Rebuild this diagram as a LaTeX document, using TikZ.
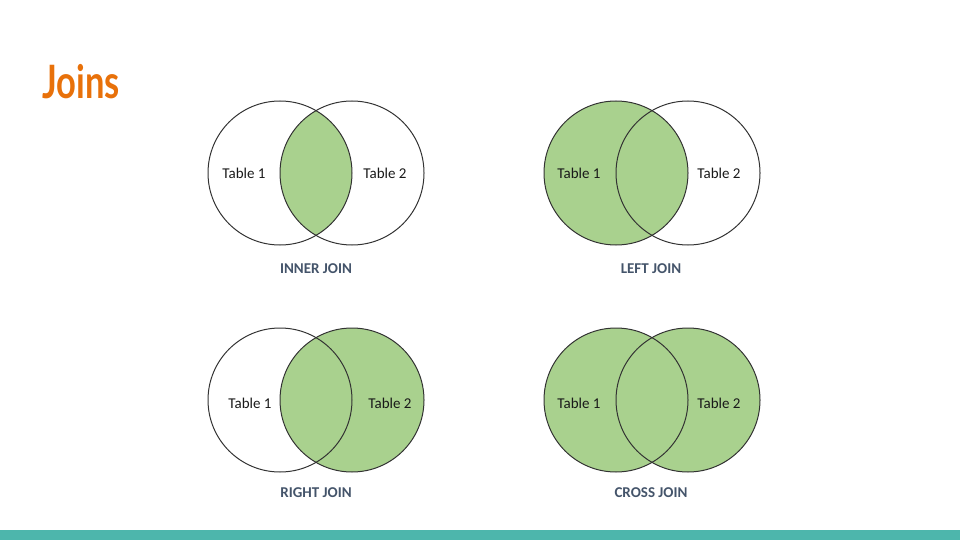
\documentclass[tikz,border=0pt]{standalone}
\usepackage{fontspec}
\setmainfont{Carlito}
\newfontfamily\titlefont[FakeStretch=0.75]{Lato}
\definecolor{joingreen}{HTML}{A9D18E}
\definecolor{joinblue}{HTML}{44546A}
\definecolor{titleorange}{HTML}{E8710A}
\definecolor{barteal}{HTML}{4DB6AC}

\begin{document}
\begin{tikzpicture}[x=1pt,y=-1pt]
\tikzstyle{every node}+=[inner sep=0pt]
\tikzstyle{tbl}=[circle, minimum size=144pt, draw=black!80, line width=1pt]
\tikzstyle{tname}=[font=\fontsize{15}{17}\selectfont, text=black!90]
\tikzstyle{jname}=[font=\fontsize{15}{17}\selectfont\bfseries, text=joinblue]
\useasboundingbox (0,0) rectangle (960,540);
\node[anchor=base west, font=\titlefont\bfseries\fontsize{46}{50}\selectfont, text=titleorange] (title) at (42,99) {Joins};
% inner join
\begin{scope}
\clip (280,173) circle (72pt);
\fill[joingreen] (352,173) circle (72pt);
\end{scope}
\node[tbl] (inA) at (280,173) {};
\node[tbl] (inB) at (352,173) {};
\node[tname] (inAt) at (244,173) {Table 1};
\node[tname] (inBt) at (385,173) {Table 2};
\node[jname] (inJ) at (316,269) {INNER JOIN};
% left join
\fill[joingreen] (616,173) circle (72pt);
\node[tbl] (lfA) at (616,173) {};
\node[tbl] (lfB) at (688,173) {};
\node[tname] (lfAt) at (579,173) {Table 1};
\node[tname] (lfBt) at (719,173) {Table 2};
\node[jname] (lfJ) at (651,269) {LEFT JOIN};
% right join
\fill[joingreen] (352,400) circle (72pt);
\node[tbl] (rtA) at (280,400) {};
\node[tbl] (rtB) at (352,400) {};
\node[tname] (rtAt) at (250,403) {Table 1};
\node[tname] (rtBt) at (390,403) {Table 2};
\node[jname] (rtJ) at (316,493) {RIGHT JOIN};
% cross join
\fill[joingreen] (616,400) circle (72pt) (688,400) circle (72pt);
\node[tbl] (crA) at (616,400) {};
\node[tbl] (crB) at (688,400) {};
\node[tname] (crAt) at (579,403) {Table 1};
\node[tname] (crBt) at (719,403) {Table 2};
\node[jname] (crJ) at (651,493) {CROSS JOIN};
\fill[barteal] (0,530) rectangle (960,540);
\end{tikzpicture}
\end{document}
